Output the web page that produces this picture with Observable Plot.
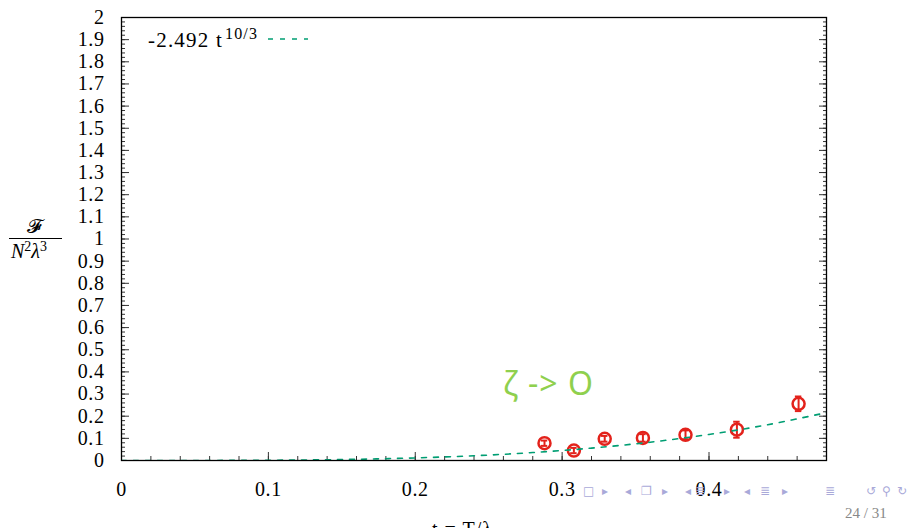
<!DOCTYPE html>
<html><head><meta charset="utf-8">
<script src="https://cdn.jsdelivr.net/npm/d3@7"></script>
<script src="https://cdn.jsdelivr.net/npm/@observablehq/plot@0.6"></script>
<style>
body{margin:0;background:#fff;}
#wrap{position:relative;width:913px;height:528px;overflow:hidden;color:#000;}
#wrap svg{position:absolute;left:0;top:0;}
#wrap svg text{letter-spacing:0.6px;}
.abs{position:absolute;white-space:nowrap;line-height:1;font-family:'Liberation Serif',serif;}
.nav{position:absolute;font-family:'DejaVu Sans',sans-serif;font-size:12px;color:#a9a9d9;line-height:1;}
</style></head><body><div id="wrap"></div>
<script>
// fitted curve, values
const fitT = [0, 0.04, 0.08, 0.12, 0.16, 0.20, 0.24, 0.28, 0.32, 0.36, 0.40, 0.44, 0.48];
const fitF = [0, 0.00005, 0.0006, 0.0021, 0.0055, 0.0117, 0.0214, 0.0358, 0.0559, 0.0827, 0.1175, 0.1615, 0.216];
// lattice data points
const ptT = [0.288, 0.308, 0.329, 0.355, 0.384, 0.419, 0.461];
const ptF = [0.078, 0.045, 0.098, 0.102, 0.116, 0.139, 0.256];
const ptErr = [0.012, 0.012, 0.013, 0.017, 0.020, 0.036, 0.033];
// ticks
const yTicks = d3.range(0, 21).map(i => i / 10);
const yTickLabels = ["0","0.1","0.2","0.3","0.4","0.5","0.6","0.7","0.8","0.9","1","1.1","1.2","1.3","1.4","1.5","1.6","1.7","1.8","1.9","2"];
const yMinor = d3.range(0, 101).map(i => i / 50);
const xTicks = [0, 0.1, 0.2, 0.3, 0.4];
const xTickLabels = ["0","0.1","0.2","0.3","0.4"];
const xMinor = d3.range(0, 25).map(i => i / 50);

const fit = fitT.map((t, i) => ({t, f: fitF[i]}));
const pts = ptT.map((t, i) => ({t, f: ptF[i], e: ptErr[i]}));

const red = "#e3221b";
const green = "#009e73";

const plot = Plot.plot({
  width: 913, height: 528,
  marginLeft: 121, marginRight: 87, marginTop: 17, marginBottom: 68,
  style: {fontFamily: "'Liberation Serif', serif", fontSize: "20px", background: "white", overflow: "visible"},
  x: {domain: [0, 0.48]},
  y: {domain: [0, 2]},
  marks: [
    Plot.axisY({ticks: yMinor, tickSize: -4, text: null, stroke: "#333", label: null}),
    Plot.axisY({ticks: yMinor, anchor: "right", tickSize: -4, text: null, stroke: "#333", label: null}),
    Plot.axisX({ticks: xMinor, tickSize: -4, text: null, stroke: "#333", label: null}),
    Plot.axisY({ticks: yTicks, tickSize: -8, text: null, stroke: "#333", label: null}),
    Plot.axisY({ticks: yTicks, anchor: "right", tickSize: -8, text: null, stroke: "#333", label: null}),
    Plot.axisX({ticks: xTicks, tickSize: -8, text: null, stroke: "#333", label: null}),
    Plot.axisY({ticks: yTicks, tickFormat: (d, i) => yTickLabels[i], tickSize: 0, tickPadding: 17, label: null, fill: "#000", fontSize: 20}),
    Plot.axisX({ticks: xTicks, tickFormat: (d, i) => xTickLabels[i], tickSize: 0, tickPadding: 21, label: null, fill: "#000", fontSize: 20}),
    Plot.ruleX(pts, {x: "t", y1: d => d.f - d.e, y2: d => d.f + d.e, stroke: red, strokeWidth: 2}),
    Plot.ruleY(pts, {y: d => d.f - d.e, x1: d => d.t - 0.0022, x2: d => d.t + 0.0022, stroke: red, strokeWidth: 2}),
    Plot.ruleY(pts, {y: d => d.f + d.e, x1: d => d.t - 0.0022, x2: d => d.t + 0.0022, stroke: red, strokeWidth: 2}),
    Plot.dot(pts, {x: "t", y: "f", r: 6, stroke: red, strokeWidth: 2.5, fill: "none"}),
    Plot.line(fit, {x: "t", y: "f", stroke: green, strokeWidth: 1.6, strokeDasharray: "5,7", curve: "catmull-rom", clip: true}),
    Plot.frame({stroke: "#000", strokeWidth: 1.3})
  ]
});
const wrap = document.getElementById("wrap");
wrap.appendChild(plot);

function add(html, cls, left, top, extra) {
  const el = document.createElement("div");
  el.className = cls;
  el.innerHTML = html;
  el.style.left = left + "px";
  el.style.top = top + "px";
  if (extra) Object.assign(el.style, extra);
  wrap.appendChild(el);
  return el;
}
// legend
add('-2.492 t<span style="font-size:16px;position:relative;top:-8px;margin-left:2px">10/3</span>', "abs", 148, 30, {fontSize: "21px", letterSpacing: "1.2px"});
add('<svg width="42" height="4"><line x1="1" y1="2" x2="41" y2="2" stroke="' + green + '" stroke-width="1.6" stroke-dasharray="5,7"/></svg>', "abs", 267, 37);
// y label
add('<span style="font-family:\'DejaVu Serif\',serif">𝓕</span>', "abs", 27, 216, {fontSize: "20px"});
add('', "abs", 9, 238, {width: "53px", height: "1px", background: "#000"});
add('<i>N</i><span style="font-size:14px;position:relative;top:-7px">2</span><i>λ</i><span style="font-size:14px;position:relative;top:-7px">3</span>', "abs", 11, 241, {fontSize: "20px"});
// x label (cut off at the bottom edge, as in the slide)
add('t = T/λ', "abs", 432, 519, {fontSize: "20px", letterSpacing: "1px"});
// annotation
add('ζ -&gt; O', "abs", 503, 367, {fontFamily: "'Noto Sans',sans-serif", fontSize: "32px", color: "#8fd04e", fontWeight: "400", letterSpacing: "1px"});
// navigation symbols
const nav = [["□",583],["▸",602],["◂",625],["❐",641],["▸",662],["◂",685],["≣",695],["▸",724],["◂",744],["≣",760],["▸",782],["≣",825],["↺",866],["⚲",882],["↻",897]];
nav.forEach(([g, x]) => add(g, "nav", x, 485));
add('24 / 31', "abs", 845, 506, {fontSize: "15px", color: "#888"});
</script></body></html>
